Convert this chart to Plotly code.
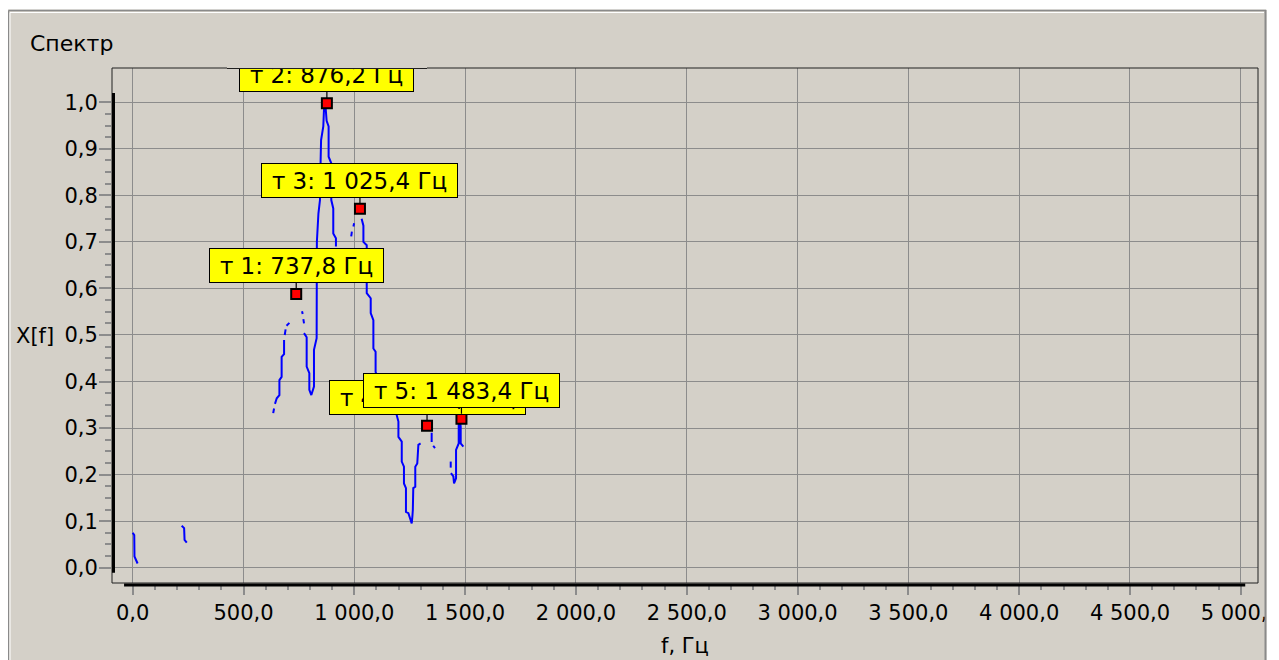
import plotly.graph_objects as go

# ---------------- data ----------------
# spectrum (None = break in the drawn line)
freq = [0, 7, 8, 15, 22, None,
        221, 232, 234, 244, None,
        634, 638, None,
        642, 650, 662, 662, 672, 672, 683, 683, None,
        686, 690, None,
        694, 707, None,
        764, 767, None,
        770, 773, None,
        773, 785, 785, 797, 797, 806, 818, 818, 830, 830, 831, 838, 845, 848,
        850, 860, 863, 869, 872, 875, 884, 884, 896, 896, 905, 905, 917, 917, None,
        986, 989, None,
        996, 999, None,
        1033, 1041, 1041, 1056, 1056, 1074, 1074, 1086, 1086, 1096, 1096, 1110,
        1150, 1180, 1190, 1199, 1199, 1214, 1214, 1224, 1224, 1233, 1233, 1244,
        1251, 1259, 1262, 1264, 1266, 1275, 1275, 1284, 1289, 1299, None,
        1349, 1349, None,
        1356, 1364, None,
        1435, 1435, None,
        1436, 1447, 1450, 1459, 1459, 1471, 1471, 1477, 1480, 1480, 1492]
amp = [0.075, 0.070, 0.024, 0.017, 0.009, None,
       0.090, 0.085, 0.060, 0.054, None,
       0.332, 0.342, None,
       0.352, 0.364, 0.371, 0.403, 0.410, 0.453, 0.459, 0.489, None,
       0.500, 0.512, None,
       0.520, 0.526, None,
       0.551, 0.545, None,
       0.534, 0.525, None,
       0.504, 0.495, 0.432, 0.418, 0.382, 0.371, 0.389, 0.468, 0.493, 0.618,
       0.700, 0.761, 0.790, 0.876, 0.919, 0.948, 0.983, 0.998, 0.985, 0.960,
       0.948, 0.883, 0.869, 0.790, 0.772, 0.718, 0.708, 0.690, None,
       0.712, 0.722, None,
       0.733, 0.740, None,
       0.750, 0.735, 0.700, 0.693, 0.590, 0.579, 0.547, 0.532, 0.471, 0.464,
       0.421, 0.400, 0.370, 0.340, 0.330, 0.314, 0.281, 0.271, 0.228, 0.217,
       0.181, 0.171, 0.120, 0.117, 0.104, 0.095, 0.110, 0.124, 0.171, 0.174,
       0.217, 0.224, 0.264, 0.267, None,
       0.290, 0.270, None,
       0.262, 0.257, None,
       0.228, 0.215, None,
       0.203, 0.196, 0.181, 0.192, 0.253, 0.267, 0.310, 0.317, 0.303, 0.267, 0.260]

marker_names = ["т 1", "т 2", "т 3", "т 4", "т 5"]
marker_freq = [737.8, 876.2, 1025.4, 1328.1, 1483.4]
marker_amp = [0.588, 0.998, 0.771, 0.305, 0.320]

x_tickvals = [0, 500, 1000, 1500, 2000, 2500, 3000, 3500, 4000, 4500, 5000]
x_ticktext = ["0,0", "500,0", "1 000,0", "1 500,0", "2 000,0", "2 500,0",
              "3 000,0", "3 500,0", "4 000,0", "4 500,0", "5 000,0"]
y_tickvals = [0.0, 0.1, 0.2, 0.3, 0.4, 0.5, 0.6, 0.7, 0.8, 0.9, 1.0]
y_ticktext = ["0,0", "0,1", "0,2", "0,3", "0,4", "0,5", "0,6", "0,7", "0,8", "0,9", "1,0"]

# ---------------- layout geometry ----------------
OFF = 8                      # default page body margin
W, H = 1285, 660
ML, MR, MT, MB = 104, 35, 60, 85
PW, PH = W - ML - MR, H - MT - MB
PANEL = "#D4D0C8"
GRID = "#8C8C8C"
FONT = "DejaVu Sans"


def px(x):
    """page pixel x -> paper fraction"""
    return (x - OFF - ML) / PW


def py(y):
    """page pixel y -> paper fraction"""
    return (H - MB - (y - OFF)) / PH


def fmt_freq(v):
    return f"{v:,.1f}".replace(",", " ").replace(".", ",")


fig = go.Figure()
fig.add_trace(go.Scatter(x=freq, y=amp, mode="lines", connectgaps=False,
                         line=dict(color="#0000FF", width=2), hoverinfo="skip",
                         showlegend=False))
fig.add_trace(go.Scatter(x=marker_freq, y=marker_amp, mode="markers",
                         marker=dict(symbol="square", size=10, color="#FF0000",
                                     line=dict(color="#000000", width=2)),
                         hoverinfo="skip", showlegend=False))

shapes = []
# white surroundings outside the panel (top strip, right of the panel)
shapes.append(dict(type="rect", xref="paper", yref="paper", layer="above",
                   x0=px(0), x1=px(1320), y0=py(0), y1=py(9.5),
                   fillcolor="white", line=dict(width=0)))
shapes.append(dict(type="rect", xref="paper", yref="paper", layer="above",
                   x0=px(1266.5), x1=px(1320), y0=py(0), y1=py(700),
                   fillcolor="white", line=dict(width=0)))
# panel border (3D look)
for (x0, y0, x1, y1, c, w) in [(8.5, 10.5, 1266, 10.5, "#8A8A8A", 1.5),
                               (8.5, 10.5, 8.5, 700, "#8A8A8A", 1.5),
                               (10, 12.5, 1264, 12.5, "#FFFFFF", 1),
                               (10, 12.5, 10, 700, "#FFFFFF", 1),
                               (1265.5, 10, 1265.5, 700, "#8A8A8A", 2)]:
    shapes.append(dict(type="line", xref="paper", yref="paper", layer="above",
                       x0=px(x0), x1=px(x1), y0=py(y0), y1=py(y1),
                       line=dict(color=c, width=w)))
# plot frame
shapes.append(dict(type="rect", xref="paper", yref="paper", layer="above",
                   x0=0, x1=1, y0=0, y1=1, line=dict(color="#202020", width=1)))
# thick axis lines
shapes.append(dict(type="line", xref="x", yref="paper", layer="above",
                   x0=-39, x1=5020, y0=py(585), y1=py(585),
                   line=dict(color="#000000", width=3)))
shapes.append(dict(type="line", xref="paper", yref="y", layer="above",
                   x0=px(113.5), x1=px(113.5), y0=-0.011, y1=1.02,
                   line=dict(color="#000000", width=3)))

annotations = []
for name, f, a in zip(marker_names, marker_freq, marker_amp):
    txt = f"{name}: {fmt_freq(f)} Гц"
    annotations.append(dict(
        x=f, y=a, xref="x", yref="y", text=txt, showarrow=True,
        arrowhead=0, arrowwidth=1.2, arrowcolor="#000000", standoff=5,
        ax=0, ay=-28.5, bgcolor="#FFFF00", bordercolor="#000000",
        borderwidth=1, borderpad=0, width=173 if len(txt) < 15 else 195,
        height=33, font=dict(family=FONT, size=23, color="#000000")))
    if name == "т 2":
        # part of the label above the plot area is clipped in the original
        annotations.append(dict(x=f, y=1, xref="x", yref="paper", text=" ",
                                showarrow=False, yanchor="bottom", xanchor="center",
                                width=200, height=24, bgcolor=PANEL,
                                borderwidth=0, borderpad=0,
                                font=dict(size=2)))
        annotations.append(dict(x=f, y=1, xref="x", yref="paper", text=" ",
                                showarrow=False, yanchor="middle", xanchor="center",
                                width=200, height=1, bgcolor="#202020",
                                borderwidth=0, borderpad=0,
                                font=dict(size=1)))

# y axis title (horizontal)
annotations.append(dict(x=px(56), y=py(336), xref="paper", yref="paper",
                        text="X[f]", showarrow=False, xanchor="right", yanchor="middle",
                        font=dict(family=FONT, size=21, color="#000000")))

fig.update_layout(
    width=W, height=H, autosize=False,
    margin=dict(l=ML, r=MR, t=MT, b=MB, pad=0, autoexpand=False),
    paper_bgcolor=PANEL, plot_bgcolor=PANEL,
    font=dict(family=FONT, size=21, color="#000000"),
    title=dict(text="Спектр", x=(30 - OFF) / W, xanchor="left", xref="container",
               y=1 - (43 - OFF) / H, yanchor="middle", yref="container",
               font=dict(family=FONT, size=22, color="#000000")),
    shapes=shapes, annotations=annotations, showlegend=False,
    xaxis=dict(range=[-93.4, 5077.6], tickmode="array", tickvals=x_tickvals,
               ticktext=x_ticktext, showgrid=True, gridcolor=GRID, gridwidth=1,
               zeroline=False, showline=False, ticks="outside", ticklen=11,
               tickwidth=2, tickcolor="#8C8C8C", automargin=False,
               minor=dict(dtick=100, tick0=0, ticks="outside", ticklen=6,
                          tickwidth=2, tickcolor="#8C8C8C", showgrid=False),
               title=dict(text="f, Гц", standoff=14,
                          font=dict(family=FONT, size=21, color="#000000")),
               tickfont=dict(family=FONT, size=21, color="#000000")),
    yaxis=dict(range=[-0.0329, 1.0737], tickmode="array", tickvals=y_tickvals,
               ticktext=y_ticktext, showgrid=True, gridcolor=GRID, gridwidth=1,
               zeroline=False, showline=False, ticks="outside", ticklen=12,
               tickwidth=2, tickcolor="#8C8C8C", ticklabelstandoff=-3,
               automargin=False,
               minor=dict(tickmode="array",
                          tickvals=[i * 0.025 for i in range(41)],
                          ticks="outside", ticklen=6, tickwidth=2,
                          tickcolor="#8C8C8C", showgrid=False),
               tickfont=dict(family=FONT, size=21, color="#000000")),
)

fig.write_html("out.html")
